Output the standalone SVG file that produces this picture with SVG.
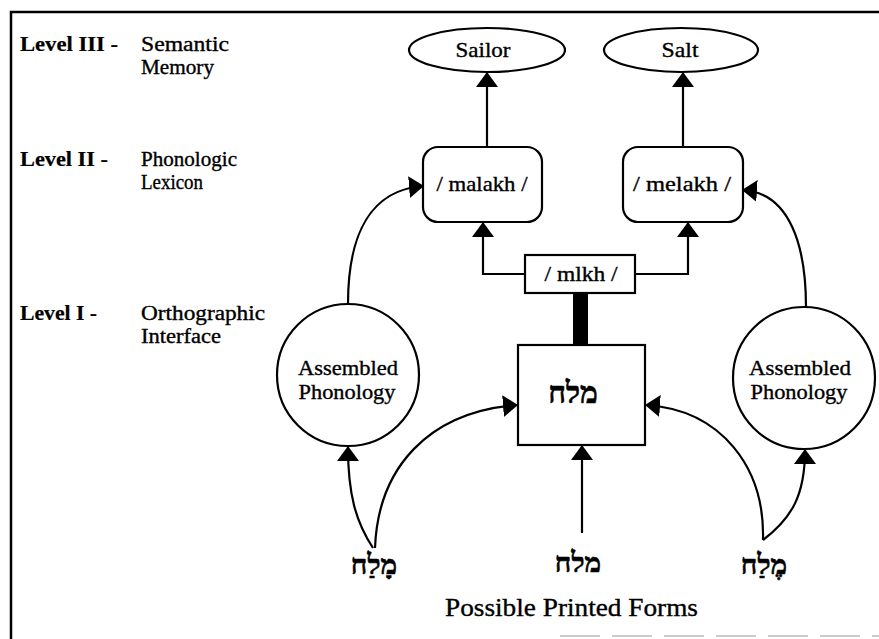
<svg xmlns="http://www.w3.org/2000/svg" width="879" height="639" viewBox="0 0 879 639">
<style>
.ln{fill:none;stroke:#000;stroke-width:2.2}
.nd{fill:#fff;stroke:#000;stroke-width:2.2}
.t{font-family:"Liberation Serif","Times New Roman",serif;fill:#000;stroke:#000;stroke-width:0.35}
.lv{font-weight:bold;font-size:20px;stroke-width:0.2}
.ds{font-size:20px}
.lb{font-size:21px;text-anchor:middle}
.he{font-family:"Liberation Serif","DejaVu Serif",serif;font-weight:bold;text-anchor:middle;fill:#000;stroke:#000;stroke-width:0.6}
</style>
<defs>
<marker id="ah" viewBox="0 0 15 22" refX="14" refY="11" markerWidth="15" markerHeight="22" markerUnits="userSpaceOnUse" orient="auto"><path d="M0,0 L15,11 L0,22 z" fill="#000"/></marker>
</defs>
<rect x="0" y="0" width="879" height="639" fill="#fff"/>
<path d="M11,639 V12 H879" fill="none" stroke="#000" stroke-width="2.5"/>
<path d="M560,636 H879" fill="none" stroke="#bbb" stroke-width="1.5" stroke-dasharray="40 12"/>

<g id="levels">
<text class="t lv" x="20" y="51" textLength="98" lengthAdjust="spacingAndGlyphs">Level III -</text>
<text class="t ds" x="141" y="51" textLength="88" lengthAdjust="spacingAndGlyphs">Semantic</text>
<text class="t ds" x="141" y="74" textLength="73" lengthAdjust="spacingAndGlyphs">Memory</text>
<text class="t lv" x="20" y="166" textLength="88" lengthAdjust="spacingAndGlyphs">Level II -</text>
<text class="t ds" x="141" y="166" textLength="96" lengthAdjust="spacingAndGlyphs">Phonologic</text>
<text class="t ds" x="141" y="189" textLength="62" lengthAdjust="spacingAndGlyphs">Lexicon</text>
<text class="t lv" x="20" y="320" textLength="77" lengthAdjust="spacingAndGlyphs">Level I -</text>
<text class="t ds" x="141" y="320" textLength="124" lengthAdjust="spacingAndGlyphs">Orthographic</text>
<text class="t ds" x="141" y="343" textLength="80" lengthAdjust="spacingAndGlyphs">Interface</text>
</g>

<g id="connectors">
<path class="ln" d="M487,147 V73" marker-end="url(#ah)"/>
<path class="ln" d="M683,147 V73" marker-end="url(#ah)"/>
<path class="ln" d="M525,274 H483 V223" marker-end="url(#ah)"/>
<path class="ln" d="M635,274 H688 V223" marker-end="url(#ah)"/>
<rect x="573" y="293" width="15" height="52" fill="#000"/>
<path class="ln" d="M582,533 V446" marker-end="url(#ah)"/>
<path class="ln" d="M373,548 C356,522 348,495 348,447" marker-end="url(#ah)"/>
<path class="ln" d="M375,548 C378,468 428,412 517,405" marker-end="url(#ah)"/>
<path class="ln" d="M763,540 C792,518 805,495 805,450" marker-end="url(#ah)"/>
<path class="ln" d="M763,540 C765,468 722,410 646,405" marker-end="url(#ah)"/>
<path class="ln" d="M348,304 C348,232 372,190 423,186" marker-end="url(#ah)"/>
<path class="ln" d="M806,307 C806,246 790,193 743,190" marker-end="url(#ah)"/>
</g>

<g id="sailor">
<ellipse class="nd" cx="487" cy="50" rx="78" ry="22"/>
<text class="t lb" x="483" y="57" textLength="55" lengthAdjust="spacingAndGlyphs">Sailor</text>
</g>
<g id="salt">
<ellipse class="nd" cx="681" cy="50" rx="77" ry="22"/>
<text class="t lb" x="680" y="57" textLength="37" lengthAdjust="spacingAndGlyphs">Salt</text>
</g>
<g id="malakh">
<rect class="nd" x="423" y="147" width="119" height="75" rx="15"/>
<text class="t lb" x="482" y="191" textLength="91" lengthAdjust="spacingAndGlyphs">/ malakh /</text>
</g>
<g id="melakh">
<rect class="nd" x="623" y="147" width="120" height="75" rx="15"/>
<text class="t lb" x="682" y="191" textLength="98" lengthAdjust="spacingAndGlyphs">/ melakh /</text>
</g>
<g id="mlkh">
<rect class="nd" x="525" y="255" width="110" height="38"/>
<text class="t lb" x="581" y="281" textLength="73" lengthAdjust="spacingAndGlyphs">/ mlkh /</text>
</g>
<g id="orth">
<rect class="nd" x="518" y="345" width="127" height="100"/>
<text class="he" x="573" y="403" font-size="30">מלח</text>
</g>
<g id="assembled-left">
<circle class="nd" cx="348" cy="375" r="71"/>
<text class="t lb" x="348" y="375" textLength="100" lengthAdjust="spacingAndGlyphs">Assembled</text>
<text class="t lb" x="347" y="399" textLength="97" lengthAdjust="spacingAndGlyphs">Phonology</text>
</g>
<g id="assembled-right">
<circle class="nd" cx="804" cy="378" r="71"/>
<text class="t lb" x="800" y="375" textLength="102" lengthAdjust="spacingAndGlyphs">Assembled</text>
<text class="t lb" x="799" y="399" textLength="97" lengthAdjust="spacingAndGlyphs">Phonology</text>
</g>
<g id="forms">
<text class="he" x="374" y="574" font-size="28">מָלַח</text>
<text class="he" x="578" y="572" font-size="28">מלח</text>
<text class="he" x="764" y="574" font-size="28">מֶלַח</text>
<text class="t" x="445" y="616" font-size="25" textLength="253" lengthAdjust="spacingAndGlyphs">Possible Printed Forms</text>
</g>
</svg>
